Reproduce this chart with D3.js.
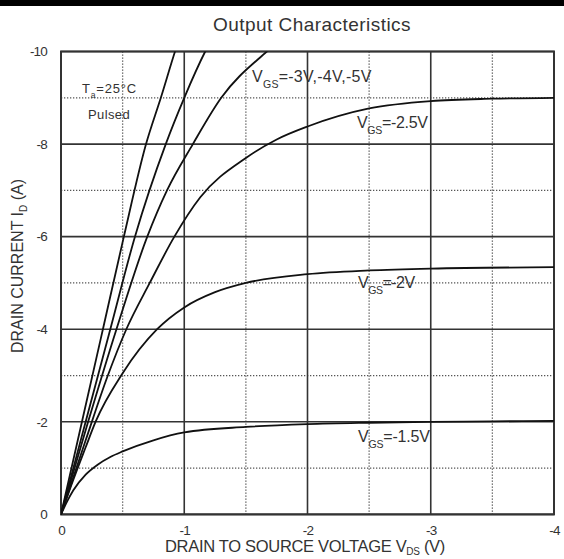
<!DOCTYPE html>
<html><head><meta charset="utf-8">
<script src="https://cdn.jsdelivr.net/npm/d3@7"></script>
<style>
body{margin:0;background:#fff;}
svg{display:block;font-family:"Liberation Sans",Arial,sans-serif;}
</style></head>
<body><svg id="c" width="564" height="559"></svg>
<script>
// ---- data (VDS in V, ID in A) ----
const xTickValues = [0, -1, -2, -3, -4];
const xTickLabels = ["0", "-1", "-2", "-3", "-4"];
const yTickValues = [0, -2, -4, -6, -8, -10];
const yTickLabels = ["0", "-2", "-4", "-6", "-8", "-10"];
const xMinorGrid = [-0.5, -1.5, -2.5, -3.5];
const yMinorGrid = [-1, -3, -5, -7, -9];

const vgs5V   = [[0,0],[-0.17,-2.0],[-0.34,-4],[-0.51,-6],[-0.69,-8],[-0.81,-9],[-0.925,-10],[-1.0,-10.6]];
const vgs4V   = [[0,0],[-0.2,-2.0],[-0.4,-4],[-0.6,-6],[-0.85,-8],[-1.0,-9],[-1.17,-10],[-1.25,-10.4]];
const vgs3V   = [[0,0],[-0.22,-2.0],[-0.45,-4],[-0.7,-6],[-0.86,-7],[-1.07,-8],[-1.3,-9],[-1.67,-10],[-1.8,-10.3]];
const vgs25V  = [[0,0],[-0.2,-1.6],[-0.38,-3.0],[-0.53,-4.0],[-0.72,-5.0],[-0.92,-6.0],[-1.13,-6.85],[-1.5,-7.7],[-1.75,-8.1],[-2,-8.38],[-2.5,-8.77],[-3,-8.93],[-3.5,-8.98],[-4,-9.0]];
const vgs2V   = [[0,0],[-0.1,-0.75],[-0.2,-1.45],[-0.28,-2.0],[-0.5,-3.05],[-0.78,-4.0],[-1.0,-4.47],[-1.25,-4.8],[-1.5,-5.0],[-2,-5.19],[-2.5,-5.27],[-3,-5.31],[-4,-5.34]];
const vgs15V  = [[0,0],[-0.05,-0.28],[-0.1,-0.52],[-0.2,-0.86],[-0.3,-1.08],[-0.4,-1.24],[-0.5,-1.36],[-0.75,-1.6],[-1,-1.77],[-1.5,-1.89],[-2,-1.95],[-2.5,-1.98],[-3,-2.0],[-3.5,-2.01],[-4,-2.02]];
const seriesList = [vgs5V, vgs4V, vgs3V, vgs25V, vgs2V, vgs15V];

// ---- layout ----
const L = 61, R = 554, T = 51.5, B = 514.4;
const svg = d3.select("#c");
const x = d3.scaleLinear().domain([0, -4]).range([L, R]);
const y = d3.scaleLinear().domain([0, -10]).range([B, T]);

// condense a text element to a target width via letter-spacing
function fit(t, target){
  const node = t.node();
  const w = node.getBBox().width;
  const n = node.textContent.length;
  const cur = parseFloat(t.attr("letter-spacing") || 0);
  t.attr("letter-spacing", cur + (target - w) / n);
}

svg.append("rect").attr("x",0).attr("y",0).attr("width",564).attr("height",6).attr("fill","#000");

// title
const title = svg.append("text").attr("x", 312).attr("y", 31).attr("text-anchor","middle")
  .attr("font-size", 19).attr("fill","#333").text("Output Characteristics");
fit(title, 198);

// minor dotted grid
const g = svg.append("g");
g.selectAll("line.vx").data(xMinorGrid).join("line")
  .attr("x1", d=>x(d)).attr("x2", d=>x(d)).attr("y1", T).attr("y2", B)
  .attr("stroke","#555").attr("stroke-width",1.3).attr("stroke-dasharray","1.3,1.7");
g.selectAll("line.hy").data(yMinorGrid).join("line")
  .attr("y1", d=>y(d)).attr("y2", d=>y(d)).attr("x1", L).attr("x2", R)
  .attr("stroke","#555").attr("stroke-width",1.3).attr("stroke-dasharray","1.3,1.7");

// major solid grid
g.selectAll("line.mx").data(xTickValues).join("line")
  .attr("x1", d=>x(d)).attr("x2", d=>x(d)).attr("y1", T).attr("y2", B)
  .attr("stroke","#333").attr("stroke-width",1.6);
g.selectAll("line.my").data(yTickValues).join("line")
  .attr("y1", d=>y(d)).attr("y2", d=>y(d)).attr("x1", L).attr("x2", R)
  .attr("stroke","#333").attr("stroke-width",1.6);
svg.append("rect").attr("x",L).attr("y",T).attr("width",R-L).attr("height",B-T)
  .attr("fill","none").attr("stroke","#333").attr("stroke-width",2);

// axes labels via d3 axes
const xAxis = d3.axisBottom(x).tickValues(xTickValues).tickSize(0)
  .tickFormat((d,i)=>xTickLabels[i]);
const xa = svg.append("g").attr("transform",`translate(0,${B+8})`).call(xAxis);
xa.select(".domain").remove();
xa.selectAll("text").attr("font-size",13.5).attr("fill","#333").attr("font-family","Liberation Sans, Arial").attr("letter-spacing","-0.8");

const yAxis = d3.axisLeft(y).tickValues(yTickValues).tickSize(0)
  .tickFormat((d,i)=>yTickLabels[i]);
const ya = svg.append("g").attr("transform",`translate(${L-11},0)`).call(yAxis);
ya.select(".domain").remove();
ya.selectAll("text").attr("font-size",13.5).attr("fill","#333").attr("font-family","Liberation Sans, Arial").attr("letter-spacing","-0.8");

// axis titles
const xt = svg.append("text").attr("x", 305).attr("y", 552).attr("text-anchor","middle")
  .attr("font-size",16.5).attr("fill","#333");
xt.append("tspan").text("DRAIN TO SOURCE VOLTAGE V");
xt.append("tspan").attr("font-size",10).attr("dy",3).text("DS");
xt.append("tspan").attr("dy",-3).text(" (V)");
fit(xt, 280);

const yt = svg.append("text").attr("transform","translate(23,266) rotate(-90)").attr("text-anchor","middle")
  .attr("font-size",16).attr("fill","#333");
yt.append("tspan").text("DRAIN CURRENT I");
yt.append("tspan").attr("font-size",10).attr("dy",4).text("D");
yt.append("tspan").attr("dy",-4).text(" (A)");
fit(yt, 174);

// curves
svg.append("clipPath").attr("id","clip").append("rect")
  .attr("x",L).attr("y",T).attr("width",R-L).attr("height",B-T);
const line = d3.line().x(d=>x(d[0])).y(d=>y(d[1])).curve(d3.curveMonotoneX);
svg.append("g").attr("clip-path","url(#clip)").selectAll("path").data(seriesList).join("path")
  .attr("d", line).attr("fill","none").attr("stroke","#111").attr("stroke-width",1.8);

// annotations
function label(xp, yp, main, sub, rest, fs, width){
  const t = svg.append("text").attr("x",xp).attr("y",yp).attr("font-size",fs).attr("fill","#333");
  t.append("tspan").text(main);
  t.append("tspan").attr("font-size",fs*0.66).attr("dy",fs*0.36).text(sub);
  t.append("tspan").attr("dy",-fs*0.36).text(rest);
  fit(t, width);
}
label(82, 93, "T", "a", "=25\u00B0C", 13, 55);
const pul = svg.append("text").attr("x",88).attr("y",119).attr("font-size",13).attr("fill","#333").text("Pulsed");
fit(pul, 42);
label(252, 82, "V", "GS", "=-3V,-4V,-5V", 16, 120);
label(357, 128, "V", "GS", "=-2.5V", 16, 71);
label(358, 288, "V", "GS", "=-2V", 16, 57);
label(358, 442, "V", "GS", "=-1.5V", 16, 72);
</script></body></html>
